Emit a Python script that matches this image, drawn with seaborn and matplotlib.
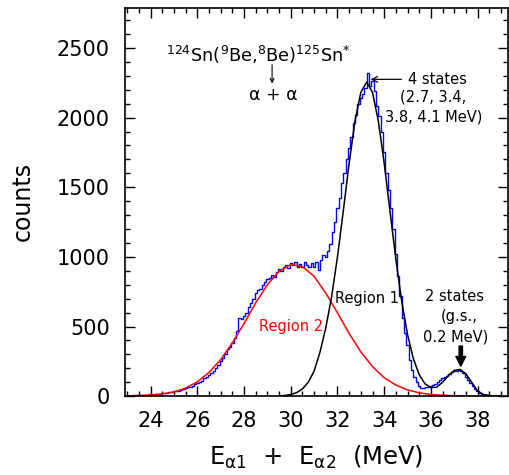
import numpy as np
import pandas as pd
import matplotlib
matplotlib.use("Agg")
import matplotlib.pyplot as plt
import seaborn as sns

# ---- data ----
hist_start = 23.0      # MeV, first bin centre
hist_width = 0.1       # MeV
hist_counts = [
    3, 4, 2, 5, 6, 4, 7, 8, 6, 9,
    12, 10, 14, 18, 15, 21, 24, 22, 28, 33,
    36, 40, 38, 47, 52, 60, 66, 63, 75, 84,
    92, 105, 112, 128, 140, 152, 168, 181, 200, 226,
    255, 272, 300, 338, 352, 380, 418, 470, 560, 552,
    575, 598, 640, 668, 700, 742, 760, 772, 798, 820,
    838, 850, 872, 858, 890, 910, 896, 925, 940, 918,
    955, 942, 960, 930, 948, 925, 962, 940, 930, 955,
    925, 960, 905, 975, 1010, 1000, 1040, 1090, 1180, 1250,
    1350, 1420, 1530, 1600, 1700, 1780, 1860, 1960, 2020, 2100,
    2140, 2170, 2210, 2320, 2230, 2260, 2190, 2080, 2010, 1900,
    1750, 1600, 1480, 1350, 1200, 1020, 860, 720, 560, 450,
    370, 260, 190, 140, 100, 75, 62, 60, 63, 65,
    70, 78, 90, 105, 118, 130, 135, 145, 158, 170,
    178, 182, 188, 178, 165, 140, 118, 92, 70, 50,
    35, 24, 16, 10, 6, 4, 3, 2, 1, 1,
]

# Region 1 fit (black)
fit1_energy = [29.5, 29.75, 30.0, 30.25, 30.5, 30.75, 31.0, 31.25, 31.5, 31.75,
               32.0, 32.25, 32.5, 32.75, 33.0, 33.25, 33.5, 33.75, 34.0, 34.25,
               34.5, 34.75, 35.0, 35.25, 35.5, 35.75, 36.0, 36.25, 36.5, 36.75,
               37.0, 37.25, 37.5, 37.75, 38.0, 38.25, 38.5, 38.75, 39.0]
fit1_counts = [2, 5, 12, 25, 52, 100, 180, 315, 490, 715,
               1000, 1330, 1673, 1975, 2181, 2255, 2181, 1975, 1673, 1326,
               983, 682, 443, 269, 154, 88, 62, 64, 100, 148,
               185, 192, 160, 100, 36, 12, 4, 1, 0]

# Region 2 fit (red)
fit2_energy = [23.0, 23.5, 24.0, 24.5, 25.0, 25.5, 26.0, 26.5, 27.0, 27.5,
               28.0, 28.5, 29.0, 29.5, 30.0, 30.5, 31.0, 31.5, 32.0, 32.5,
               33.0, 33.5, 34.0, 34.5, 35.0, 35.5, 36.0, 36.5, 37.0, 37.5,
               38.0, 38.5, 39.0]
fit2_counts = [2, 4, 8, 16, 30, 58, 103, 170, 262, 382,
               522, 670, 800, 898, 945, 931, 860, 740, 598, 450,
               318, 212, 132, 80, 45, 24, 12, 6, 3, 1,
               0, 0, 0]

x_ticks = [24, 26, 28, 30, 32, 34, 36, 38]
y_ticks = [0, 500, 1000, 1500, 2000, 2500]

# ---- plotting ----
sns.set_theme(style="ticks")
plt.rcParams["font.family"] = ["DejaVu Sans"]
plt.rcParams["mathtext.fontset"] = "dejavusans"
for key in ["text.color", "axes.labelcolor", "xtick.color", "ytick.color",
            "axes.edgecolor"]:
    plt.rcParams[key] = "black"

fig = plt.figure(figsize=(5.10, 4.75), dpi=100)
ax = fig.add_axes([0.245, 0.166, 0.751, 0.818])

hist_df = pd.DataFrame({
    "E": hist_start + hist_width * np.arange(len(hist_counts)),
    "counts": hist_counts,
})
sns.lineplot(data=hist_df, x="E", y="counts", ax=ax, color="#0000ff",
             lw=1.0, drawstyle="steps-mid")
sns.lineplot(x=fit2_energy, y=fit2_counts, ax=ax, color="#ff0000", lw=1.1)
sns.lineplot(x=fit1_energy, y=fit1_counts, ax=ax, color="black", lw=1.1)

ax.set_xlim(22.9, 39.3)
ax.set_ylim(0, 2790)
ax.set_xticks(x_ticks)
ax.set_yticks(y_ticks)
ax.xaxis.set_minor_locator(matplotlib.ticker.MultipleLocator(0.5))
ax.yaxis.set_minor_locator(matplotlib.ticker.MultipleLocator(100))
ax.tick_params(which="both", direction="in", top=True, right=True,
               width=1.0, color="black")
ax.tick_params(which="major", length=7, labelsize=15, pad=11,
               labelcolor="black")
ax.tick_params(which="minor", length=3.5)
for s in ax.spines.values():
    s.set_linewidth(1.2)
    s.set_color("black")

ax.set_xlabel(r"E$_{\mathregular{α1}}$  +  E$_{\mathregular{α2}}$  (MeV)",
              fontsize=17.5, labelpad=9)
ax.set_ylabel("counts", fontsize=17, labelpad=16)

# annotations
ax.text(28.61, 2450, r"$^{124}$Sn($^{9}$Be,$^{8}$Be)$^{125}$Sn$^{*}$",
        ha="center", va="center", fontsize=12.8)
ax.annotate("", xy=(29.2, 2245), xytext=(29.2, 2380),
            arrowprops=dict(arrowstyle="->", lw=0.8, color="black",
                            mutation_scale=7, shrinkA=0, shrinkB=0))
ax.text(29.26, 2162, "α + α", ha="center", va="center", fontsize=12.5)

ax.annotate("4 states", xy=(33.42, 2275), xytext=(35.0, 2275),
            ha="left", va="center", fontsize=10.5,
            arrowprops=dict(arrowstyle="->", lw=0.9, color="black",
                            mutation_scale=10, shrinkA=2, shrinkB=0))
ax.text(36.1, 2150, "(2.7, 3.4,", ha="center", va="center", fontsize=10.5)
ax.text(36.1, 2006, "3.8, 4.1 MeV)", ha="center", va="center", fontsize=10.5)

ax.text(33.26, 702, "Region 1", ha="center", va="center", fontsize=10.5,
        color="black")
ax.text(30.02, 503, "Region 2", ha="center", va="center", fontsize=10.5,
        color="#ff0000")

ax.text(37.03, 713, "2 states", ha="center", va="center", fontsize=10.5)
ax.text(37.2, 570, "(g.s.,", ha="center", va="center", fontsize=10.5)
ax.text(37.08, 426, "0.2 MeV)", ha="center", va="center", fontsize=10.5)
ax.annotate("", xy=(37.28, 215), xytext=(37.28, 360),
            arrowprops=dict(width=2.4, headwidth=7, headlength=7,
                            color="black", shrink=0))

fig.savefig("out.png", dpi=100)
